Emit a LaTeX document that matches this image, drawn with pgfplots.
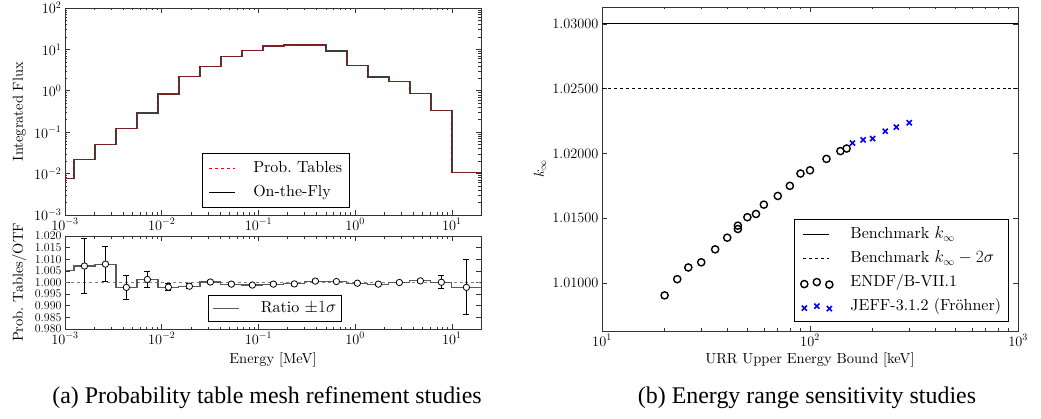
\documentclass[border=0pt]{standalone}
\usepackage{pgfplots}
\pgfplotsset{compat=1.18}
\usepackage{fontspec}
\setmainfont{lmroman10-regular.otf}[ItalicFont=lmroman10-italic.otf, BoldFont=lmroman10-bold.otf]
\newfontfamily\capfont{Liberation Serif}

\newcommand{\tickfont}{\fontsize{14bp}{16bp}\selectfont}
\newcommand{\labfont}{\fontsize{14.5bp}{17bp}\selectfont}
\newcommand{\legfont}{\fontsize{16bp}{19bp}\selectfont}

% histogram bin edges (MeV), value holds until next edge
\pgfplotstableread{
x        flux     ratio
0.001    0.0076   1.0050
0.001237 0.022    1.0071
0.002038 0.0495   1.0079
0.003360 0.125    0.9979
0.005539 0.29     1.0013
0.009133 0.83     0.9980
0.01505  2.2      0.9984
0.02482  3.9      1.0002
0.04091  6.8      0.9993
0.06745  9.5      0.9989
0.1112   12.0     0.9993
0.1833   12.8     0.9994
0.3022   12.8     1.0006
0.4982   9.1      1.0004
0.8213   4.1      0.9997
1.354    2.15     0.9993
2.232    1.65     1.0000
3.680    0.85     1.0007
6.065    0.33     1.0001
10       0.0106   0.9979
20       0.0106   0.9979
}\histo

\pgfplotstableread{
x        y       e
0.001588 1.0071  0.0118
0.002617 1.0079  0.0075
0.004313 0.9979  0.0051
0.007112 1.0013  0.0034
0.01172  0.9980  0.0015
0.01932  0.9984  0.0010
0.03186  1.0002  0.0007
0.05253  0.9993  0.0005
0.08660  0.9989  0.0005
0.1428   0.9993  0.0005
0.2353   0.9994  0.0005
0.3880   1.0006  0.0005
0.6396   1.0004  0.0005
1.054    0.9997  0.0005
1.739    0.9993  0.0005
2.866    1.0000  0.0005
4.724    1.0007  0.0006
7.788    1.0001  0.0028
14.14    0.9979  0.0118
}\ratiopts

\pgfplotsset{
  panel/.style={
    scale only axis, anchor=south west,
    tick align=inside,
    major tick length=5bp, minor tick length=2.5bp,
    axis line style={black!80, line width=0.8bp},
    every tick/.style={black!80, line width=0.6bp},
    tick label style={font=\tickfont},
    legend style={font=\legfont, draw=black, line width=0.7bp, fill=white,
      cells={anchor=west}, column sep=16bp, row sep=6bp, inner sep=6bp,
      nodes={inner sep=1.5bp, text height=11.5bp, text depth=3.5bp}},
    legend image code/.code={\draw[##1] (0bp,0bp) -- (26bp,0bp);},
  },
  scatleg/.style={
    legend image code/.code={\draw[##1, only marks] plot coordinates {(1bp,-1.5bp) (13.5bp,0.5bp) (26bp,-2bp)};},
  },
}

\begin{document}
\begin{tikzpicture}
\useasboundingbox (0,0) rectangle (1041bp,419bp);

% (a) top: integrated flux
\begin{axis}[panel,
  at={(65bp,204bp)}, width=416bp, height=207bp,
  xmode=log, ymode=log,
  xmin=1e-3, xmax=20, ymin=1e-3, ymax=1e2,
  ylabel={Integrated Flux},
  ylabel style={at={(axis description cs:-0.11,0.5)}, anchor=center, font=\labfont},
  legend style={at={(0.685,0.034)}, anchor=south east},
]
\addplot[black!75, line width=1.3bp, const plot, forget plot] table[x=x, y=flux] {\histo};
\addplot[red!70!black, dashed, line width=1bp, const plot, forget plot] table[x=x, y=flux] {\histo};
\addlegendimage{red, dashed, line width=0.9bp}
\addlegendentry{Prob.\ Tables}
\addlegendimage{black, line width=1bp}
\addlegendentry{On-the-Fly}
\end{axis}

% (a) bottom: ratio
\begin{axis}[panel,
  at={(65bp,90bp)}, width=416bp, height=93bp,
  xmode=log,
  xmin=1e-3, xmax=20, ymin=0.98, ymax=1.02,
  ytick={0.98,0.985,0.99,0.995,1,1.005,1.01,1.015,1.02},
  yticklabel style={font=\fontsize{12.8bp}{13bp}\selectfont, inner ysep=0.5bp,
    /pgf/number format/.cd, fixed, fixed zerofill, precision=3},
  xlabel={Energy [MeV]},
  xlabel style={at={(axis description cs:0.5,-0.333)}, anchor=center, font=\labfont},
  ylabel={Prob.\ Tables/OTF},
  ylabel style={at={(axis description cs:-0.11,0.5)}, anchor=center, font=\labfont},
  legend style={at={(0.666,0.075)}, anchor=south east, row sep=2bp, inner sep=4bp, column sep=20bp},
]
\addplot[gray, dashed, line width=1bp, forget plot] coordinates {(1e-3,1) (20,1)};
\addplot[black!65, line width=1.2bp, const plot] table[x=x, y=ratio] {\histo};
\addlegendentry{Ratio $\pm1\sigma$}
\addplot[only marks, mark=*, mark size=3.2bp,
  mark options={fill=white, draw=black, line width=0.8bp},
  error bars/.cd, y dir=both, y explicit,
  error bar style={black, line width=0.9bp},
  error mark options={rotate=90, black, mark size=3bp, line width=0.9bp},
  ] table[x=x, y=y, y error=e] {\ratiopts};
\end{axis}

% (b) k-infinity vs URR upper bound
\begin{axis}[panel,
  at={(602bp,88bp)}, width=416bp, height=324bp,
  xmode=log,
  xmin=10, xmax=1000, ymin=1.0063, ymax=1.0313,
  ytick={1.01,1.015,1.02,1.025,1.03},
  yticklabel style={/pgf/number format/.cd, fixed, fixed zerofill, precision=5},
  scaled y ticks=false,
  xlabel={URR Upper Energy Bound [keV]},
  xlabel style={at={(axis description cs:0.5,-0.0895)}, anchor=center, font=\labfont},
  ylabel={$k_\infty$},
  ylabel style={at={(axis description cs:-0.149,0.5)}, anchor=center, font=\labfont},
  legend style={at={(0.978,0.028)}, anchor=south east},
]
\addplot[black, line width=1bp] coordinates {(10,1.03) (1000,1.03)};
\addlegendentry{Benchmark $k_\infty$}
\addplot[black, dashed, line width=1bp] coordinates {(10,1.025) (1000,1.025)};
\addlegendentry{Benchmark $k_\infty-2\sigma$}
\addplot[only marks, mark=o, mark size=3.6bp, black, line width=1.4bp, scatleg] coordinates {
  (20,1.00905) (23,1.0103) (26,1.0112) (30,1.0116) (35,1.0126) (40,1.0135)
  (45,1.01417) (45,1.01443) (50,1.01508) (55,1.01533) (60,1.01605) (70,1.01672)
  (80,1.0175) (90,1.01845) (100,1.0187) (120,1.01958) (140,1.02018) (150,1.02038)
};
\addlegendentry{ENDF/B-VII.1}
\addplot[only marks, mark=x, mark size=3.6bp, blue, line width=1.6bp, scatleg] coordinates {
  (160,1.0208) (180,1.02105) (200,1.02115) (230,1.02172) (260,1.02203) (300,1.02237)
};
\addlegendentry{JEFF-3.1.2 (Fröhner)}
\end{axis}

\node[anchor=base, font=\capfont\fontsize{23.9bp}{28bp}\selectfont] at (267bp,16bp)
  {(a) Probability table mesh refinement studies};
\node[anchor=base, font=\capfont\fontsize{23.9bp}{28bp}\selectfont] at (807bp,16bp)
  {(b) Energy range sensitivity studies};
\end{tikzpicture}
\end{document}
